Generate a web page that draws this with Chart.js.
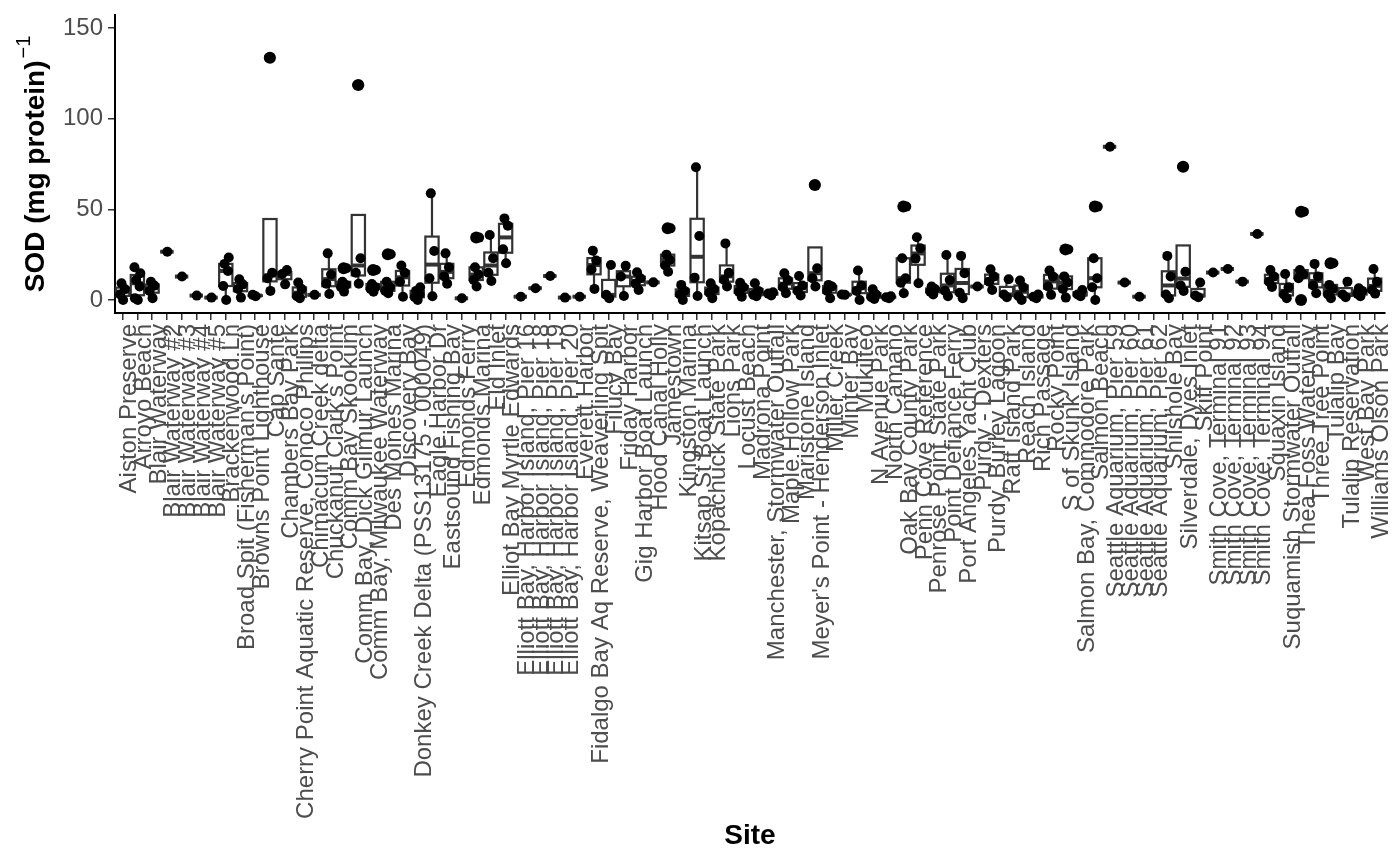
<!DOCTYPE html>
<html>
<head>
<meta charset="utf-8">
<title>SOD by site</title>
<script src="https://cdn.jsdelivr.net/npm/chart.js@4"></script>
<style>
  html, body { margin: 0; padding: 0; background: #fff; }
  canvas { display: block; }
</style>
</head>
<body>
<canvas id="sodChart" width="1400" height="865"></canvas>
<script>
// ===== DATA =====
const sites = [
  "Aiston Preserve", "Arroyo Beach", "Blair Waterway", "Blair Waterway #2", "Blair Waterway #3",
  "Blair Waterway #4", "Blair Waterway #5", "Brackenwood Ln", "Broad Spit (Fisherman's Point)",
  "Browns Point Lighthouse", "Cap Sante", "Chambers Bay Park",
  "Cherry Point Aquatic Reserve, Conoco Phillips", "Chimacum Creek delta", "Chuckanut Clark's Point",
  "Comm Bay Skookum", "Comm Bay, Dick Gilmur Launch", "Comm Bay, Milwaukee Waterway",
  "Des Moines Marina", "Discovery Bay", "Donkey Creek Delta (PSS13175 - 000049)", "Eagle Harbor Dr",
  "Eastsound Fishing Bay", "Edmonds Ferry", "Edmonds Marina", "Eld Inlet", "Elliot Bay Myrtle Edwards",
  "Elliott Bay, Harbor Island, Pier 16", "Elliott Bay, Harbor Island, Pier 18",
  "Elliott Bay, Harbor Island, Pier 19", "Elliott Bay, Harbor Island, Pier 20", "Everett Harbor",
  "Fidalgo Bay Aq Reserve, Weaverling Spit", "Filucy Bay", "Friday Harbor", "Gig Harbor Boat Launch",
  "Hood Canal Holly", "Jamestown", "Kingston Marina", "Kitsap St Boat Launch", "Kopachuck State Park",
  "Lions Park", "Locust Beach", "Madrona Point", "Manchester, Stormwater Outfall", "Maple Hollow Park",
  "Maristone Island", "Meyer's Point - Henderson Inlet", "Miller Creek", "Minter Bay", "Mukilteo",
  "N Avenue Park", "North Camano", "Oak Bay County Park", "Penn Cove Reference",
  "Penrose Point State Park", "Point Defiance Ferry", "Port Angeles Yacht Club", "Purdy - Dexters",
  "Purdy, Burley Lagoon", "Ratt Island Park", "Reach Island", "Rich Passage", "Rocky Point",
  "S of Skunk Island", "Salmon Bay, Commodore Park", "Salmon Beach", "Seattle Aquarium, Pier 59",
  "Seattle Aquarium, Pier 60", "Seattle Aquarium, Pier 61", "Seattle Aquarium, Pier 62",
  "Shilshole Bay", "Silverdale, Dyes Inlet", "Skiff Point", "Smith Cove, Terminal 91",
  "Smith Cove, Terminal 92", "Smith Cove, Terminal 93", "Smith Cove, Terminal 94", "Squaxin Island",
  "Suquamish Stormwater Outfall", "Thea Foss Waterway", "Three Tree Point", "Tulalip Bay",
  "Tulalip Reservation", "West Bay Park", "Williams Olson Park"
];

// SOD (mg protein)^-1, one list of observations per site (same order as sites)
const sodValues = [
  [0, 3, 6, 9.2], [0, 1, 7.4, 11, 14.7, 18], [1, 5, 8, 10], [26.6], [12.9],
  [2.4], [1.3], [0, 7.7, 16, 19.9, 23.4], [1.3, 6, 8.6, 11.4],
  [2, 2.8], [5, 12, 15, 133.6], [8.6, 14.3, 16.5],
  [1, 2, 6, 9.6], [2.8], [3.3, 9, 14, 25.7],
  [4.6, 7, 8.3, 10, 17.5], [9, 15, 23, 118.6], [4.5, 6, 7, 8.8, 16.5],
  [3.7, 5, 7, 10, 25.2], [1.8, 10, 15, 19], [0, 1.5, 3, 5, 7], [2, 12, 27, 58.8],
  [9, 13, 18, 25.7], [0.9], [7.4, 11, 14, 18, 34.4], [10.5, 15, 23, 35.8], [20.2, 28, 41, 45],
  [1.8], [6.5],
  [13.2], [1.3], [1.8],
  [6.1, 16.8, 21.7, 27.2], [0.9, 2.8, 19.3], [2.2, 12.9, 18.8], [5.5, 9, 12, 15.3],
  [9.7], [15.6, 19, 22, 25, 39.5], [0, 3, 5, 8.3], [2.2, 12.3, 35.3, 73.2], [1, 4, 6, 9.2],
  [7.4, 11, 15, 31.2], [1.8, 4.6, 7, 9.5], [2, 2.8, 5, 9.2], [2.5, 3.5, 4.2], [3.7, 7, 11, 14.7],
  [2.5, 5, 8, 13.2], [7.4, 12, 17.5, 63.4], [0.9, 5, 7.4, 8.3], [2.8, 3], [0, 5, 8, 16.2],
  [0.5, 1.5, 3, 5.9], [1, 1.5, 2], [3.7, 9.5, 12, 23, 51.5], [9.2, 22.8, 28.5, 34.6],
  [3, 4.6, 6, 7.4], [2, 5, 11, 24.8], [1, 4, 14.7, 24.3], [7.4],
  [5.5, 10, 13, 16.9], [1.5, 3, 11.4], [0, 2, 7, 10.7], [1, 1.8, 3], [2.8, 7.4, 13, 16.2],
  [1.3, 6, 9.6, 13, 27.9], [2, 3, 5.5], [0, 7, 12, 23, 51.5], [84.5],
  [9.6], [1.8], [],
  [0.9, 3, 13, 24.3], [5, 8, 15.6, 73.5], [1.5, 2.5, 9.6], [15.1],
  [17.1], [10.1], [36.4], [7.2, 10, 13, 16.5],
  [1, 3, 7, 14.3], [0, 12, 14, 16.5, 48.7], [3.7, 8, 13, 19.9], [0.9, 3, 6, 8.3, 20.2],
  [1.5, 3, 10.1], [2, 3.3, 5, 6.4], [3.5, 5.5, 10, 17.1]
];

const yTicks = [0, 50, 100, 150];

// ===== BOX STATS (same rules as ggplot's stat_boxplot) =====
const quantile = (s, p) => {
  const pos = (s.length - 1) * p;
  const lo = Math.floor(pos), hi = Math.ceil(pos);
  return s[lo] + (s[hi] - s[lo]) * (pos - lo);
};

const boxStats = sodValues.map(vals => {
  if (!vals.length) return null;
  const s = [...vals].sort((a, b) => a - b);
  const q1 = quantile(s, 0.25), med = quantile(s, 0.5), q3 = quantile(s, 0.75);
  const iqr = q3 - q1;
  const inside = s.filter(v => v >= q1 - 1.5 * iqr && v <= q3 + 1.5 * iqr);
  return {
    q1, med, q3,
    lo: Math.min(q1, ...inside),
    hi: Math.max(q3, ...inside),
    out: s.filter(v => v < q1 - 1.5 * iqr || v > q3 + 1.5 * iqr)
  };
});

// small fixed horizontal spread so the dots don't sit on top of each other
const jitter = [0.03, -0.17, 0.15, -0.08, 0.2, -0.2, 0.1];

const jitterPoints = [];
sodValues.forEach((vals, i) => {
  vals.forEach((v, k) => jitterPoints.push({ x: i + jitter[k % jitter.length], y: v }));
});

const outlierPoints = [];
boxStats.forEach((b, i) => {
  if (b) b.out.forEach(v => outlierPoints.push({ x: i, y: v }));
});

const FONT = "'Liberation Sans', Arial, sans-serif";

// ===== BOXES =====
const boxPlugin = {
  id: "boxes",
  beforeDatasetsDraw(chart) {
    const { ctx, scales: { x, y } } = chart;
    ctx.save();
    ctx.strokeStyle = "#333333";
    boxStats.forEach((b, i) => {
      if (!b) return;
      const xl = x.getPixelForValue(i - 0.45);
      const xr = x.getPixelForValue(i + 0.45);
      const xc = x.getPixelForValue(i);
      const yq1 = y.getPixelForValue(b.q1), yq3 = y.getPixelForValue(b.q3);

      // whiskers
      ctx.lineWidth = 2.2;
      ctx.beginPath();
      ctx.moveTo(xc, yq3); ctx.lineTo(xc, y.getPixelForValue(b.hi));
      ctx.moveTo(xc, yq1); ctx.lineTo(xc, y.getPixelForValue(b.lo));
      ctx.stroke();

      // box
      ctx.fillStyle = "#ffffff";
      ctx.fillRect(xl, yq3, xr - xl, yq1 - yq3);
      ctx.strokeRect(xl, yq3, xr - xl, yq1 - yq3);

      // median
      ctx.lineWidth = 4;
      const ym = y.getPixelForValue(b.med);
      ctx.beginPath();
      ctx.moveTo(xl, ym); ctx.lineTo(xr, ym);
      ctx.stroke();
    });
    ctx.restore();
  }
};

// ===== Y TITLE WITH SUPERSCRIPT =====
const yTitlePlugin = {
  id: "yTitle",
  afterDraw(chart) {
    const { ctx, chartArea } = chart;
    const main = "SOD (mg protein)";
    const sup = "\u22121";
    ctx.save();
    ctx.translate(36, (chartArea.top + chartArea.bottom) / 2);
    ctx.rotate(-Math.PI / 2);
    ctx.fillStyle = "#000";
    ctx.textBaseline = "middle";
    ctx.textAlign = "left";
    ctx.font = `bold 28px ${FONT}`;
    const w1 = ctx.measureText(main).width;
    ctx.font = `20px ${FONT}`;
    const w2 = ctx.measureText(sup).width;
    const start = -(w1 + w2 + 2) / 2;
    ctx.font = `bold 28px ${FONT}`;
    ctx.fillText(main, start, 0);
    ctx.font = `20px ${FONT}`;
    ctx.fillText(sup, start + w1 + 2, -12);
    ctx.restore();
  }
};

const ctx = document.getElementById("sodChart").getContext("2d");

new Chart(ctx, {
  type: "scatter",
  data: {
    datasets: [
      {
        label: "SOD",
        data: jitterPoints,
        pointRadius: 5,
        pointHoverRadius: 5,
        backgroundColor: "#000000",
        borderWidth: 0
      },
      {
        label: "outliers",
        data: outlierPoints,
        pointRadius: 6,
        pointHoverRadius: 6,
        backgroundColor: "#000000",
        borderWidth: 0
      }
    ]
  },
  options: {
    responsive: false,
    animation: false,
    layout: { padding: { top: 15, right: 15, left: 0, bottom: 0 } },
    plugins: {
      legend: { display: false },
      tooltip: { enabled: false }
    },
    scales: {
      x: {
        type: "linear",
        min: -0.52,
        max: 85.7,
        afterBuildTicks: (scale) => {
          scale.ticks = sites.map((_, i) => ({ value: i }));
        },
        afterFit: (scale) => {
          scale.height = 552;
          scale.paddingLeft = 0;
          scale.paddingRight = 0;
        },
        ticks: {
          autoSkip: false,
          minRotation: 90,
          maxRotation: 90,
          labelOffset: 7,
          padding: 4,
          color: "#4D4D4D",
          font: { family: FONT, size: 24 },
          callback: (v) => sites[v]
        },
        grid: { drawOnChartArea: false, tickLength: 7, color: "#333333", lineWidth: 1.5 },
        border: { display: true, color: "#000000", width: 2 },
        title: {
          display: true,
          text: "Site",
          color: "#000000",
          font: { family: FONT, size: 28, weight: "bold" },
          padding: { top: 0, bottom: 12 }
        }
      },
      y: {
        min: -7.2,
        max: 157.2,
        afterBuildTicks: (scale) => {
          scale.ticks = yTicks.map(v => ({ value: v }));
        },
        afterFit: (scale) => {
          scale.width = 115;
          scale.paddingTop = 0;
          scale.paddingBottom = 0;
        },
        ticks: {
          padding: 5,
          color: "#4D4D4D",
          font: { family: FONT, size: 24 },
          callback: (v) => v
        },
        grid: { drawOnChartArea: false, tickLength: 7, color: "#333333", lineWidth: 1.5 },
        border: { display: true, color: "#000000", width: 2 }
      }
    }
  },
  plugins: [boxPlugin, yTitlePlugin]
});
</script>
</body>
</html>
